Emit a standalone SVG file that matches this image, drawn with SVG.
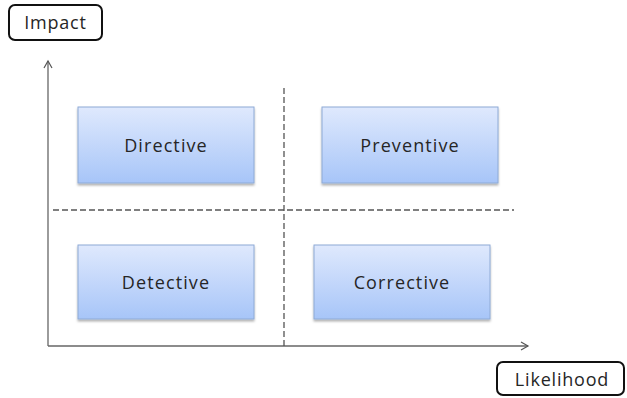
<svg xmlns="http://www.w3.org/2000/svg" width="627" height="398" viewBox="0 0 627 398">
<style>
.box{fill:url(#g);stroke:#8eaad6;stroke-width:1;filter:url(#sh)}
.lbl{font-family:"Open Sans","Liberation Sans",sans-serif;font-size:18px;letter-spacing:1.1px;fill:#262626;text-anchor:middle}
.ax{font-family:"Open Sans","Liberation Sans",sans-serif;font-size:18px;letter-spacing:0.8px;fill:#262626;text-anchor:middle}
.tag{fill:#fff;stroke:#111;stroke-width:2}
.axis{stroke:#666;stroke-width:1.3;fill:none}
.dash{stroke:#555;stroke-width:1.3;stroke-dasharray:6,3;fill:none}
</style>
<defs>
<linearGradient id="g" x1="0" y1="0" x2="0" y2="1">
<stop offset="0" stop-color="#dfe9fd"/>
<stop offset="1" stop-color="#a7c5f8"/>
</linearGradient>
<filter id="sh" x="-10%" y="-10%" width="120%" height="130%">
<feDropShadow dx="0" dy="2" stdDeviation="1.2" flood-color="#000" flood-opacity="0.3"/>
</filter>
<marker id="arr" markerWidth="10" markerHeight="10" refX="8" refY="5" orient="auto" markerUnits="userSpaceOnUse">
<path d="M1,1 L8,5 L1,9" fill="none" stroke="#555" stroke-width="1.2"/>
</marker>
</defs>
<g id="connectors">
<path class="axis" d="M48,346 L48,61" marker-end="url(#arr)"/>
<path class="axis" d="M48,346 L528,346" marker-end="url(#arr)"/>
<path class="dash" d="M284,88 L284,346"/>
<path class="dash" d="M53,210 L514,210"/>
</g>
<g id="impact">
<rect class="tag" x="9" y="5" width="93" height="35" rx="6"/>
<text class="ax" x="55.5" y="29">Impact</text>
</g>
<g id="likelihood">
<rect class="tag" x="497" y="362" width="127" height="33" rx="6"/>
<text class="ax" x="562" y="386">Likelihood</text>
</g>
<g id="directive">
<rect class="box" x="78" y="107" width="176" height="76"/>
<text class="lbl" x="166" y="152">Directive</text>
</g>
<g id="preventive">
<rect class="box" x="322" y="107" width="176" height="76"/>
<text class="lbl" x="410" y="152">Preventive</text>
</g>
<g id="detective">
<rect class="box" x="78" y="245" width="176" height="74"/>
<text class="lbl" x="166" y="289">Detective</text>
</g>
<g id="corrective">
<rect class="box" x="314" y="245" width="176" height="74"/>
<text class="lbl" x="402" y="289">Corrective</text>
</g>
</svg>
